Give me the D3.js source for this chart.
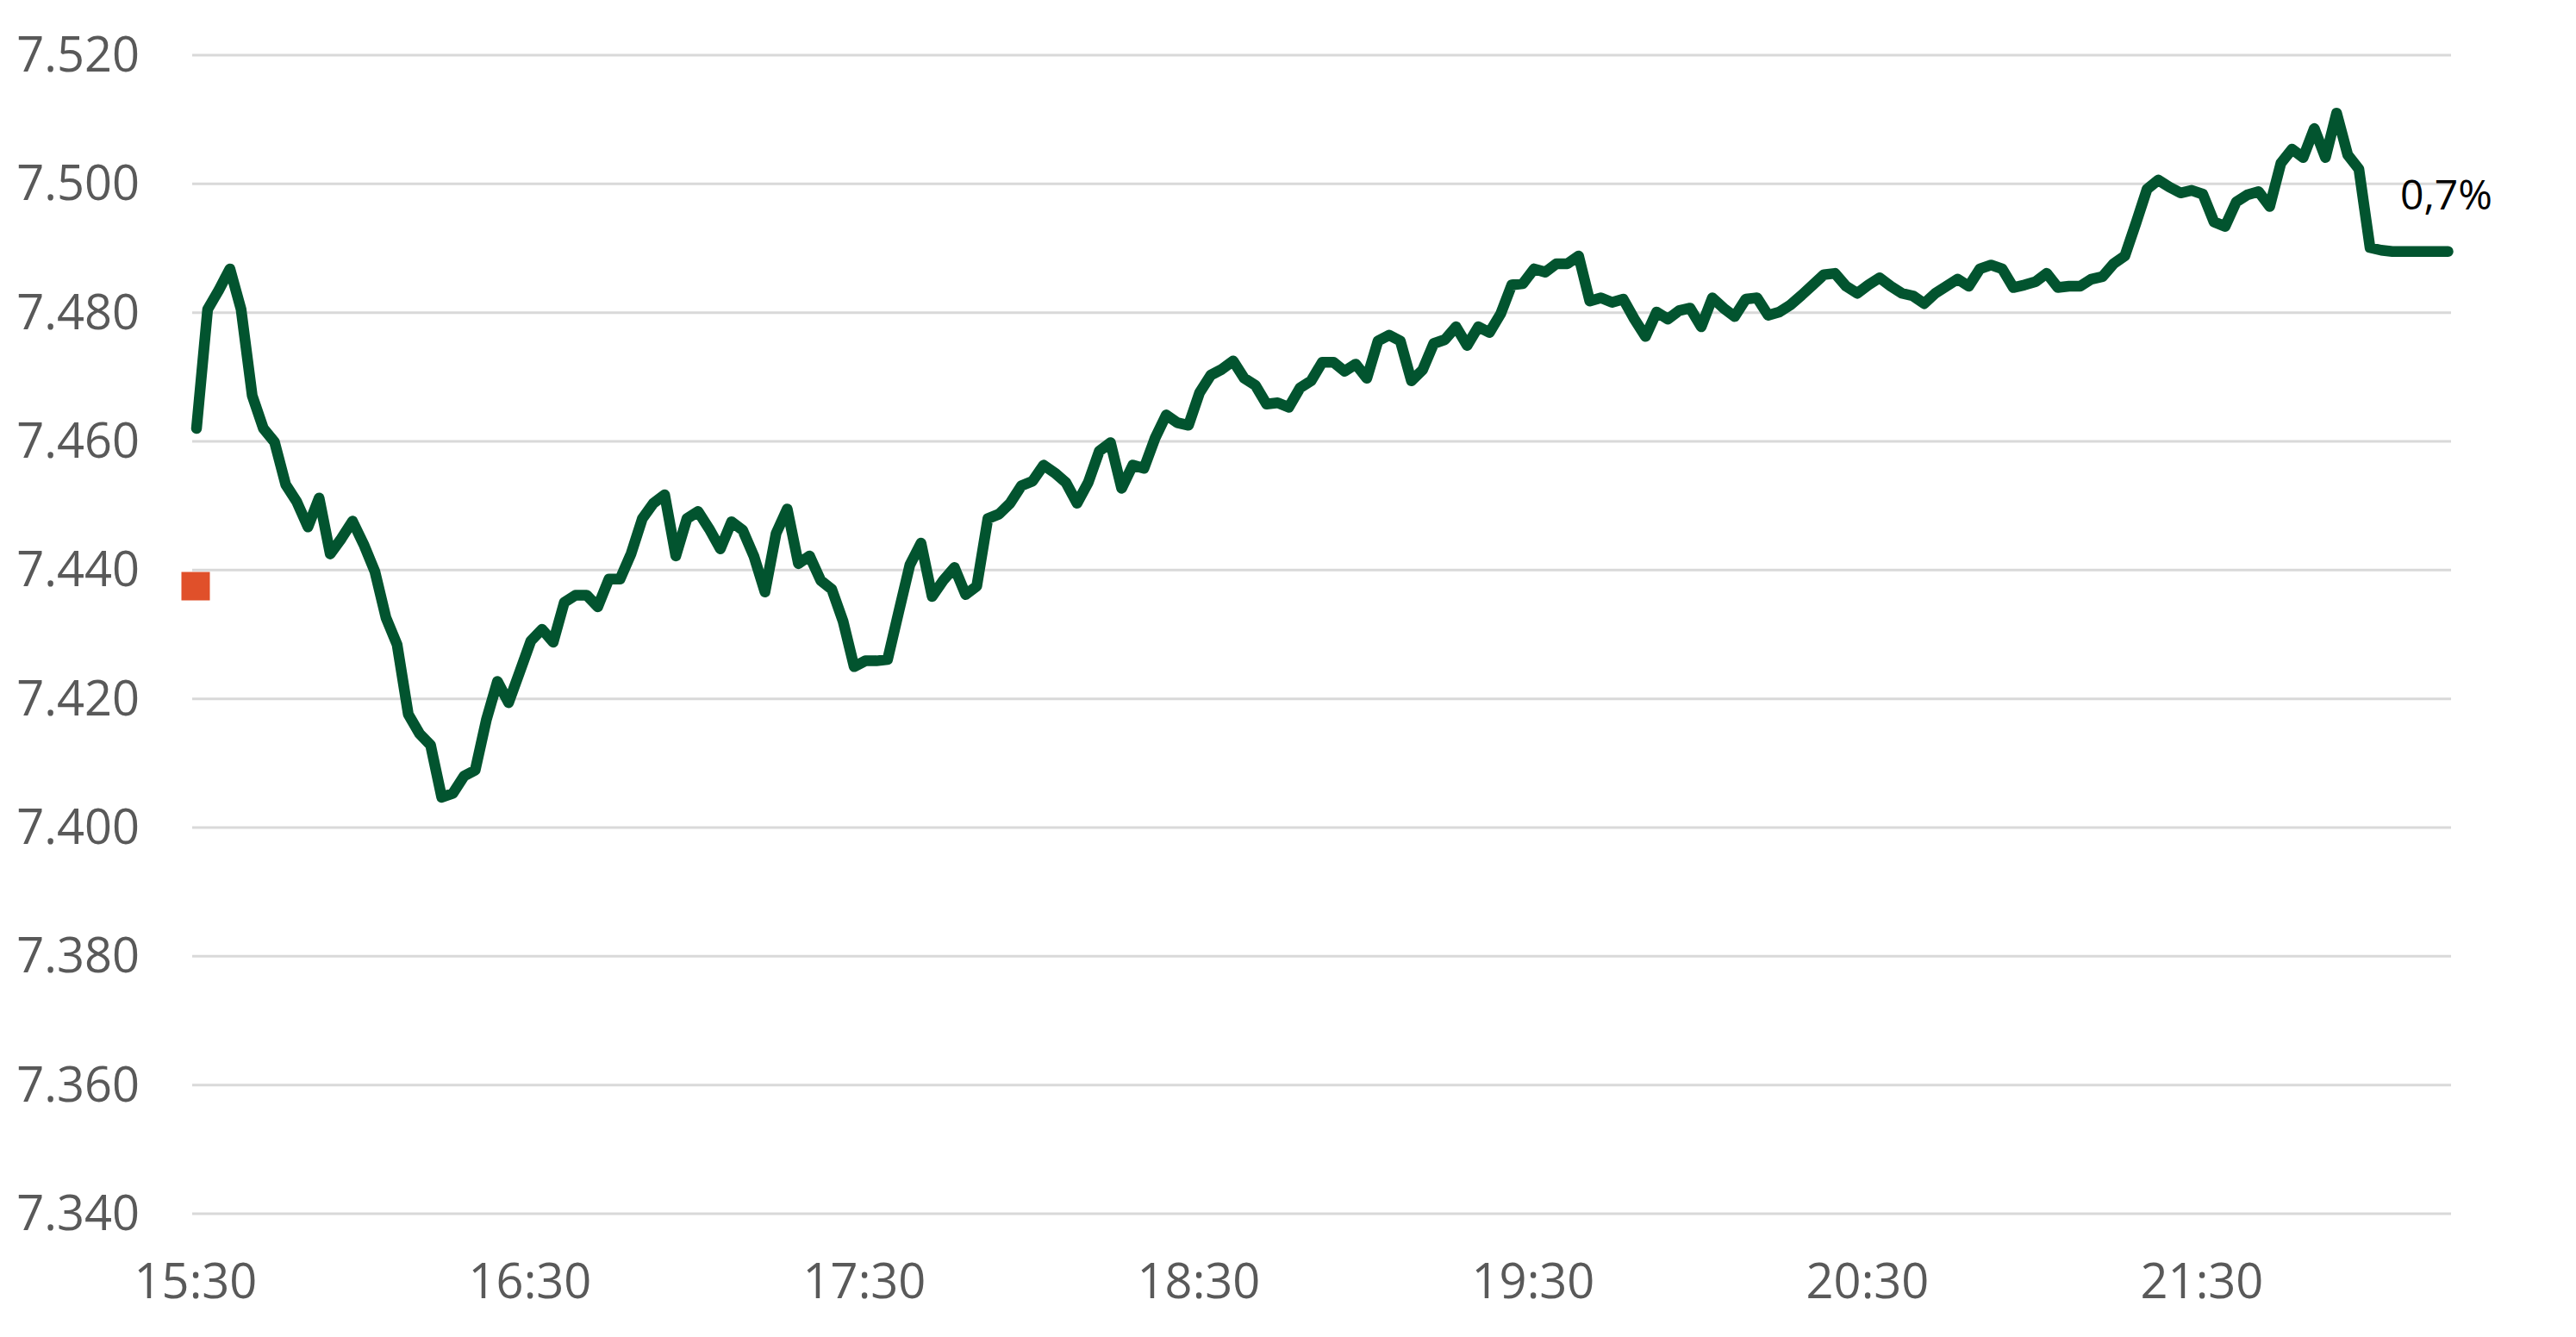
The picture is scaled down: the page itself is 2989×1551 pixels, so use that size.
<!DOCTYPE html>
<html>
<head>
<meta charset="utf-8">
<script src="https://cdn.jsdelivr.net/npm/d3@7"></script>
<style>
  html, body { margin: 0; padding: 0; background: #fff; }
  .chart text { font-family: "Open Sans", sans-serif; }
</style>
</head>
<body>
<div class="chart"></div>
<script>
// intraday quote, one point every 2 minutes from 15:30
var startTime = "15:30"
var stepMinutes = 2
var values = [
  7.462, 7.4805, 7.4835, 7.4868, 7.4805, 7.4671, 7.462, 7.4599, 7.4533, 7.4506,
  7.4467, 7.4512, 7.4425, 7.4449, 7.4476, 7.444, 7.4398, 7.4326, 7.4284, 7.4176,
  7.4146, 7.4128, 7.4047, 7.4053, 7.408, 7.4089, 7.4167, 7.4227, 7.4194, 7.4242,
  7.429, 7.4308, 7.4288, 7.435, 7.4361, 7.4361, 7.4343, 7.4386, 7.4386, 7.4426,
  7.448, 7.4504, 7.4517, 7.4422, 7.448, 7.4491, 7.4464, 7.4433, 7.4475, 7.4462,
  7.4422, 7.4366, 7.4457, 7.4495, 7.441, 7.4422, 7.4384, 7.437, 7.4321, 7.425,
  7.4259, 7.4259, 7.4261, 7.4335, 7.4408, 7.4442, 7.4359, 7.4384, 7.4404, 7.4362,
  7.4375, 7.448, 7.4487, 7.4504, 7.4531, 7.4538, 7.4563, 7.4551, 7.4536, 7.4504,
  7.4536, 7.4585, 7.4598, 7.4527, 7.4563, 7.4558, 7.4605, 7.4641, 7.4629, 7.4625,
  7.4676, 7.4703, 7.4712, 7.4725, 7.4698, 7.4687, 7.4658, 7.466, 7.4653, 7.4683,
  7.4694, 7.4723, 7.4723, 7.4709, 7.472, 7.4698, 7.4756, 7.4765, 7.4756, 7.4694,
  7.4711, 7.4752, 7.4758, 7.4778, 7.4749, 7.4778, 7.4769, 7.4798, 7.4843, 7.4845,
  7.4868, 7.4863, 7.4876, 7.4876, 7.4888, 7.4818, 7.4823, 7.4816, 7.4821, 7.479,
  7.4763, 7.4801, 7.479, 7.4803, 7.4807, 7.4778, 7.4823, 7.4807, 7.4794, 7.4821,
  7.4823, 7.4796, 7.4801, 7.4812, 7.4827, 7.4843, 7.4859, 7.4861, 7.4841, 7.483,
  7.4843, 7.4854, 7.4841, 7.483, 7.4826, 7.4814, 7.483, 7.4841, 7.4852, 7.4841,
  7.4868, 7.4874, 7.4868, 7.4839, 7.4843, 7.4848, 7.4861, 7.4839, 7.4841, 7.4841,
  7.4852, 7.4856, 7.4876, 7.4888, 7.4939, 7.4992, 7.5006, 7.4995, 7.4986, 7.499,
  7.4984, 7.4941, 7.4934, 7.4972, 7.4983, 7.4988, 7.4965, 7.5032, 7.5054, 7.5041,
  7.5086, 7.5041, 7.511, 7.5045, 7.5023, 7.4901, 7.4897, 7.4895, 7.4895, 7.4895,
  7.4895, 7.4895, 7.4895
]
var prevClose = 7.4375
var changeLabel = "0,7%"
var yTicks = [7.34, 7.36, 7.38, 7.40, 7.42, 7.44, 7.46, 7.48, 7.50, 7.52]
var xTickLabels = ["15:30", "16:30", "17:30", "18:30", "19:30", "20:30", "21:30"]
var endTime = "22:15"

document.addEventListener("DOMContentLoaded", drawChart)

function drawChart(){
  var width = 2989,
      height = 1551

  var parse = d3.timeParse("%H:%M")
  var t0 = parse(startTime)
  var points = values.map(function(v, i){
    return { t: d3.timeMinute.offset(t0, i * stepMinutes), v: v }
  })

  var xScale = d3.scaleTime()
        .domain([t0, parse(endTime)])
        .range([225, 2844]),
      yScale = d3.scaleLinear()
        .domain([7.34, 7.52])
        .range([1408, 64])

  var svg = d3.select(".chart").append("svg")
    .attr("width", width)
    .attr("height", height)

  // horizontal gridlines
  svg.append("g")
    .selectAll("line")
    .data(yTicks)
    .enter()
    .append("line")
    .attr("x1", xScale.range()[0] - 2)
    .attr("x2", xScale.range()[1])
    .attr("y1", function(d){ return yScale(d) })
    .attr("y2", function(d){ return yScale(d) })
    .attr("stroke", "#d9d9d9")
    .attr("stroke-width", 3)

  // y labels, 7.520 style (dot as thousands separator)
  var fmt = d3.formatLocale({ decimal: ",", thousands: ".", grouping: [3], currency: ["", ""] }).format(",d")
  svg.append("g")
    .selectAll("text")
    .data(yTicks)
    .enter()
    .append("text")
    .attr("x", 162)
    .attr("y", function(d){ return yScale(d) + 19 })
    .attr("text-anchor", "end")
    .attr("font-size", 56)
    .attr("fill", "#595959")
    .text(function(d){ return fmt(Math.round(d * 1000)) })

  // x labels
  svg.append("g")
    .selectAll("text")
    .data(xTickLabels)
    .enter()
    .append("text")
    .attr("x", function(d){ return xScale(parse(d)) + 2 })
    .attr("y", 1506)
    .attr("text-anchor", "middle")
    .attr("font-size", 56)
    .attr("fill", "#595959")
    .text(function(d){ return d })

  var line = d3.line()
    .x(function(d){ return xScale(d.t) + 3 })
    .y(function(d){ return yScale(d.v) })

  svg.append("path")
    .datum(points)
    .attr("d", line)
    .attr("fill", "none")
    .attr("stroke", "#02542f")
    .attr("stroke-width", 12.5)
    .attr("stroke-linejoin", "round")
    .attr("stroke-linecap", "round")

  // previous close marker
  var sz = 33
  svg.append("rect")
    .attr("x", xScale(t0) + 2 - sz / 2)
    .attr("y", yScale(prevClose) - sz / 2)
    .attr("width", sz)
    .attr("height", sz)
    .attr("fill", "#e0502a")

  svg.append("text")
    .attr("x", 2785)
    .attr("y", 243)
    .attr("font-size", 48)
    .attr("fill", "#000")
    .text(changeLabel)
}
</script>
</body>
</html>
